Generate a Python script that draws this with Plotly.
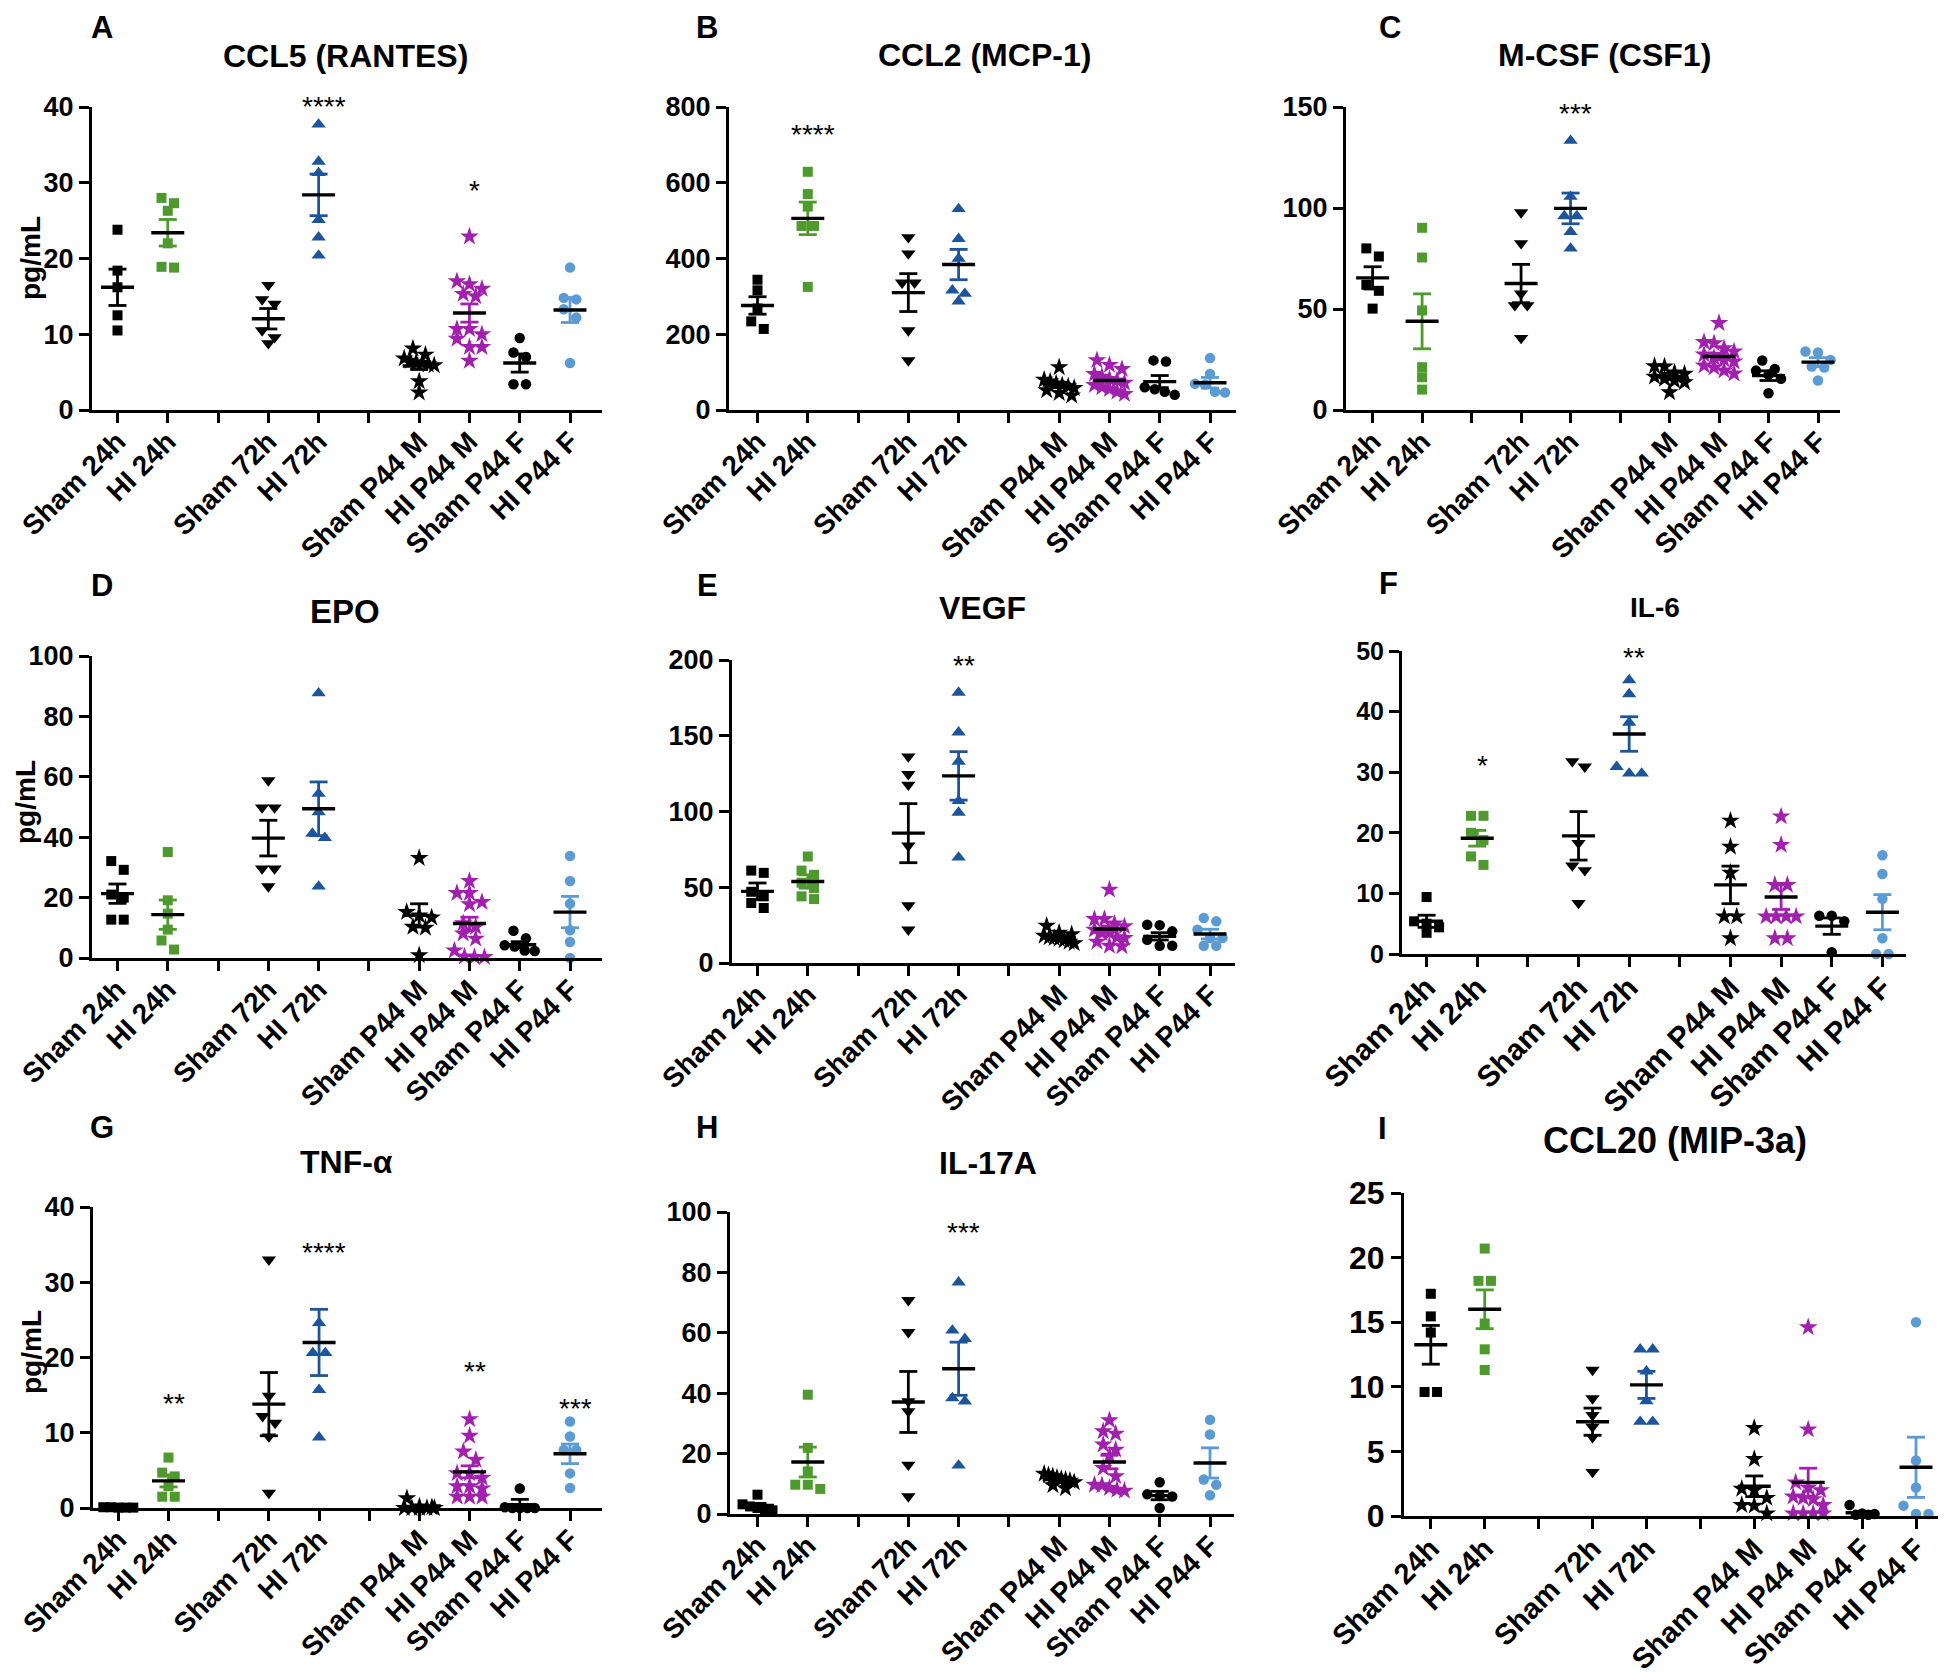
import plotly.graph_objects as go

W, H = 1946, 1678
OFF = 8  # the page body adds an 8px margin around the figure
FONT = "Liberation Sans, Arial, sans-serif"

group_x = [0, 1, 3, 4, 6, 7, 8, 9]
tick_labels = ["Sham 24h", "HI 24h", "", "Sham 72h", "HI 72h", "",
               "Sham P44 M", "HI P44 M", "Sham P44 F", "HI P44 F"]
group_colors = ["#000000", "#4e9a2e", "#000000", "#1c559d",
                "#000000", "#a120ad", "#000000", "#5b9bd5"]
group_symbols = ["square", "square", "triangle-down", "triangle-up",
                 "star", "star", "circle", "circle"]
group_sizes = [10, 10, 12.5, 12.5, 14, 14, 10.5, 10.5]

# ---- A: CCL5 (RANTES)
ccl5_points = [
    [23.8, 18.4, 16.2, 12.5, 10.5],
    [28.0, 27.3, 26.3, 22.0, 18.9, 18.8],
    [16.5, 14.6, 14.0, 10.5, 9.6, 8.8],
    [37.7, 32.8, 31.3, 25.1, 22.8, 20.4],
    [8.1, 7.3, 6.8, 6.5, 6.3, 6.2, 6.0, 5.9, 3.8, 2.3],
    [22.9, 17.0, 16.6, 16.0, 15.3, 15.0, 10.7, 10.7, 10.0, 9.4, 8.3, 8.3, 6.5],
    [9.5, 7.6, 7.0, 3.4, 3.4],
    [18.8, 14.8, 14.6, 13.3, 12.2, 6.2],
]
ccl5_mean = [16.2, 23.4, 12.05, 28.4, 5.8, 12.8, 6.2, 13.2]
ccl5_sem = [2.4, 1.75, 1.35, 2.75, 0.45, 1.2, 1.2, 1.65]
ccl5_stars = [(3, 40.8, "****"), (5, 29.8, "*")]

# ---- B: CCL2 (MCP-1)
ccl2_points = [
    [344, 316, 268, 234, 214],
    [629, 570, 537, 486, 486, 325],
    [456, 413, 336, 336, 210, 131],
    [531, 452, 400, 316, 307, 287],
    [113, 80, 75, 70, 65, 62, 58, 52, 45, 38],
    [131, 119, 108, 95, 88, 82, 78, 72, 66, 60, 55, 48, 42],
    [131, 128, 60, 55, 48, 40],
    [137, 95, 69, 67, 48, 46],
]
ccl2_mean = [276, 506, 310, 384, 66, 78, 75, 72]
ccl2_sem = [23, 43, 50, 40, 7, 5, 16, 14]
ccl2_stars = [(1, 742, "****")]

# ---- C: M-CSF (CSF1)
mcsf_points = [
    [80, 76, 62, 59, 50.2],
    [90.2, 75.5, 49.3, 21.2, 16.2, 10.1],
    [97.8, 82.5, 57.6, 51.8, 51.8, 35.6],
    [133.3, 105.6, 96, 96, 88.2, 80],
    [21.7, 21.5, 18.5, 17.9, 16.5, 15.4, 14.5, 13.7, 8.8],
    [43, 33.6, 33, 30.5, 29, 27.5, 26, 25, 24, 22, 21, 19.5, 18],
    [24.5, 20.3, 19.5, 17.5, 15.5, 8.3],
    [29, 28.5, 24.8, 21.5, 21, 14.6],
]
mcsf_mean = [65.4, 43.9, 62.6, 99.8, 16.6, 26.5, 17.0, 23.7]
mcsf_sem = [5.5, 13.6, 9.5, 7.6, 1.5, 1.6, 2.4, 2.2]
mcsf_stars = [(3, 150, "***")]

# ---- D: EPO
epo_points = [
    [32.1, 29.2, 21, 20, 12.7, 12.7],
    [35.1, 19.1, 14.7, 9.4, 5.8, 2.8],
    [58.8, 49.8, 49.8, 29.6, 29.6, 23.7],
    [87.7, 54.4, 48.3, 41.2, 39.8, 23.7],
    [33.1, 15.2, 14.1, 13.4, 10.3, 10.0, 0.9],
    [25.5, 21.5, 21.5, 18.5, 17.8, 11.5, 10.3, 8.1, 6.4, 2.5, 0.5, 0.3, 0.3],
    [9.0, 6.5, 4.2, 3.8, 2.5, 2.3],
    [33.8, 25.5, 18, 9.2, 5.3, 0],
]
epo_mean = [21.3, 14.35, 39.7, 49.4, 14.1, 11.4, 4.4, 15.2]
epo_sem = [3.2, 4.85, 5.9, 8.9, 3.85, 2.1, 1.0, 5.2]
epo_stars = []

# ---- E: VEGF
vegf_points = [
    [61, 59.5, 47, 44, 39.6, 36.3],
    [70.3, 61, 58.2, 53, 49.5, 44, 42.2],
    [136.3, 124.6, 117.6, 77.4, 38, 22],
    [178.5, 152.3, 133, 107, 99.3, 69.7],
    [24.6, 20, 19, 18, 17, 16.5, 16, 15, 14, 13],
    [48.4, 29, 29, 26, 24.2, 22, 19.8, 19.8, 17, 16.5, 14, 11.4, 11],
    [25.3, 25, 20.9, 15.4, 11.4, 11.4],
    [29.7, 27.5, 22, 16.5, 16.5, 11.4, 11.4],
]
vegf_mean = [47.3, 53.8, 85.7, 123.5, 16.9, 22.4, 17.6, 19.1]
vegf_sem = [5.5, 4.4, 19.5, 16, 1.2, 2.0, 2.4, 3.2]
vegf_stars = [(3, 200, "**")]

# ---- F: IL-6
il6_points = [
    [9.4, 5.4, 5.0, 4.4, 3.5],
    [22.8, 22.8, 20, 18.8, 16.1, 14.7],
    [31.8, 30.9, 18.3, 14.6, 13.8, 8.4],
    [45.2, 42.9, 38.2, 30.9, 29.8, 29.8],
    [22, 17.7, 13.4, 6.2, 6.2, 2.6],
    [22.7, 18, 11.4, 11.4, 6.2, 6.2, 6.2, 6.2, 2.6, 2.6],
    [6.3, 6.3, 5.4, 0.3],
    [16.3, 13.2, 9.1, 2.6, 0, 0],
]
il6_mean = [5.4, 19.1, 19.5, 36.3, 11.4, 9.4, 4.6, 6.9]
il6_sem = [1.0, 1.3, 4.0, 2.85, 3.1, 2.05, 1.35, 2.9]
il6_stars = [(1, 32.1, "*"), (3, 50, "**")]

# ---- G: TNF-alpha
tnf_points = [
    [0.1, 0.1, 0.05, 0.05, 0.05],
    [6.7, 4.7, 4.2, 2.9, 1.5, 1.5],
    [33, 14.9, 12.2, 11.3, 9.5, 2.0],
    [24.6, 20.6, 20.6, 15.7, 9.4],
    [1.3, 0.2, 0.1, 0, 0, 0, 0, 0],
    [11.8, 9.6, 7.5, 6.4, 4.6, 4.6, 4.0, 2.9, 2.9, 2.6, 1.5, 1.5, 1.5],
    [2.6, 0.1, 0, 0, 0, 0],
    [11.5, 9.5, 7.7, 7.7, 4.6, 2.65],
]
tnf_mean = [0.05, 3.6, 13.8, 22.0, 0.2, 4.8, 0.45, 7.2]
tnf_sem = [0.03, 0.8, 4.2, 4.4, 0.15, 0.8, 0.7, 1.3]
tnf_stars = [(1, 14.7, "**"), (3, 34.8, "****"), (5, 19.0, "**"), (7, 14.0, "***")]

# ---- H: IL-17A
il17_points = [
    [6.4, 3.2, 2.5, 2.0, 1.5, 1.2],
    [39.5, 21.9, 14.1, 9.7, 9.7, 8.3],
    [70.8, 60.2, 37.3, 34, 16.3, 5.8],
    [76.7, 60.8, 58, 38.4, 37.3, 16.1],
    [13.3, 12.8, 12.5, 12, 11.6, 11.3, 11, 10.5, 9.5, 8.5],
    [31, 27.4, 26.6, 23, 21.3, 19.3, 15.2, 12.5, 9.7, 9.5, 8.6, 8.0, 7.7],
    [10.5, 6.5, 6, 5.8, 2.0],
    [31.2, 26.3, 11.4, 9.7, 6.2],
]
il17_mean = [2.8, 17.2, 37.1, 48.1, 11.4, 17.2, 6.1, 16.9]
il17_sem = [0.7, 4.95, 10.1, 8.8, 0.5, 2.25, 1.4, 5.0]
il17_stars = [(3, 95.3, "***")]

# ---- I: CCL20 (MIP-3a)
ccl20_points = [
    [17.2, 15.45, 14.2, 9.6, 9.6],
    [20.7, 18.2, 18.2, 14.9, 12.9, 11.3],
    [11.3, 9.1, 7.8, 6.9, 6.1, 3.4],
    [12.9, 12.9, 11.2, 8.9, 7.3, 7.3],
    [6.8, 4.4, 2.1, 2.0, 1.4, 0.85, 0.8, 0.2],
    [14.6, 6.7, 2.6, 2.2, 2.0, 1.5, 1.4, 1.3, 0.85, 0.2, 0.2, 0.2, 0.2],
    [0.85, 0.2, 0.15, 0.1, 0.1],
    [15.0, 4.3, 2.2, 0.8, 0.15, 0.15],
]
ccl20_mean = [13.25, 16.0, 7.3, 10.15, 2.3, 2.6, 0.25, 3.77]
ccl20_sem = [1.5, 1.5, 1.05, 1.05, 0.8, 1.1, 0.1, 2.33]
ccl20_stars = []

# panel geometry in page pixels: axis left/right, first/last tick, top/zero of y
panels = [
    dict(letter="A", title="CCL5 (RANTES)", pts=ccl5_points, mean=ccl5_mean, sem=ccl5_sem,
         stars=ccl5_stars, ymax=40, dtick=10, box=(92, 602, 117.5, 570, 107, 410),
         tpos=(345, 56, 32), lpos=(102, 17), ylab=(30, 258), tf=27, xf=28),
    dict(letter="B", title="CCL2 (MCP-1)", pts=ccl2_points, mean=ccl2_mean, sem=ccl2_sem,
         stars=ccl2_stars, ymax=800, dtick=200, box=(729, 1236, 757.5, 1210, 107, 410),
         tpos=(984, 55, 32), lpos=(707, 17), ylab=None, tf=27, xf=28),
    dict(letter="C", title="M-CSF (CSF1)", pts=mcsf_points, mean=mcsf_mean, sem=mcsf_sem,
         stars=mcsf_stars, ymax=150, dtick=50, box=(1346, 1840, 1372.6, 1818, 107, 410),
         tpos=(1604, 55, 32), lpos=(1390, 17), ylab=None, tf=27, xf=28),
    dict(letter="D", title="EPO", pts=epo_points, mean=epo_mean, sem=epo_sem,
         stars=epo_stars, ymax=100, dtick=20, box=(92, 602, 117.5, 570, 656, 958),
         tpos=(345, 612, 33), lpos=(102, 585), ylab=(26, 802), tf=27, xf=28),
    dict(letter="E", title="VEGF", pts=vegf_points, mean=vegf_mean, sem=vegf_sem,
         stars=vegf_stars, ymax=200, dtick=50, box=(732, 1235, 757.5, 1210, 660, 963),
         tpos=(983, 608, 32), lpos=(707, 585), ylab=None, tf=27, xf=28),
    dict(letter="F", title="IL-6", pts=il6_points, mean=il6_mean, sem=il6_sem,
         stars=il6_stars, ymax=50, dtick=10, box=(1402, 1906, 1426.6, 1882.4, 651, 954),
         tpos=(1655, 607, 28), lpos=(1388, 584), ylab=None, tf=25, xf=30),
    dict(letter="G", title="TNF-\u03b1", pts=tnf_points, mean=tnf_mean, sem=tnf_sem,
         stars=tnf_stars, ymax=40, dtick=10, box=(93, 602, 118.3, 570, 1207, 1508),
         tpos=(346, 1162, 32), lpos=(102, 1127), ylab=(31, 1352), tf=27, xf=28),
    dict(letter="H", title="IL-17A", pts=il17_points, mean=il17_mean, sem=il17_sem,
         stars=il17_stars, ymax=100, dtick=20, box=(730, 1234, 757.5, 1210, 1212, 1514),
         tpos=(988, 1163, 32), lpos=(707, 1127), ylab=None, tf=27, xf=28),
    dict(letter="I", title="CCL20 (MIP-3a)", pts=ccl20_points, mean=ccl20_mean, sem=ccl20_sem,
         stars=ccl20_stars, ymax=25, dtick=5, box=(1404, 1942, 1430.8, 1916, 1193, 1516),
         tpos=(1675, 1140, 36), lpos=(1382, 1128), ylab=None, tf=32, xf=29),
]


def fx(x):
    return (x - OFF) / W


def fy(y):
    return 1 - (y - OFF) / H


def swarm(vals, ppu, step):
    # Prism-like rows: points with close values share a row, centred on the group
    order = sorted(range(len(vals)), key=lambda i: -vals[i])
    rows = []
    for i in order:
        y = vals[i] * ppu
        if rows and rows[-1][0] - y < step * 0.75:
            rows[-1][1].append(i)
        else:
            rows.append([y, [i]])
    offs = [0.0] * len(vals)
    for _, idx in rows:
        n = len(idx)
        d = step if n < 3 else min(step, 30.0 / (n - 1))
        for j, i in enumerate(idx):
            offs[i] = (j - (n - 1) / 2) * d
    return offs


fig = go.Figure()
annotations = []

for k, p in enumerate(panels):
    sfx = "" if k == 0 else str(k + 1)
    xa, ya = "x" + sfx, "y" + sfx
    x0, x1, t0, t9, ytop, ybot = p["box"]
    sp = (t9 - t0) / 9.0
    ppu = (ybot - ytop) / p["ymax"]

    for g in range(8):
        vals = p["pts"][g]
        offs = swarm(vals, ppu, 12.5)
        fig.add_trace(go.Scatter(
            x=[group_x[g] + o / sp for o in offs], y=vals, mode="markers",
            marker=dict(symbol=group_symbols[g], color=group_colors[g],
                        size=group_sizes[g], line=dict(width=0)),
            cliponaxis=False, xaxis=xa, yaxis=ya, showlegend=False, hoverinfo="skip"))

    cap = 9.0 / sp
    half = 16.5 / sp
    for g in range(8):
        gx, m, s = group_x[g], p["mean"][g], p["sem"][g]
        ex = [gx, gx, None, gx - cap, gx + cap, None, gx - cap, gx + cap]
        ey = [m - s, m + s, None, m + s, m + s, None, m - s, m - s]
        fig.add_trace(go.Scatter(
            x=ex, y=ey, mode="lines", line=dict(color=group_colors[g], width=2.8),
            cliponaxis=False, xaxis=xa, yaxis=ya, showlegend=False, hoverinfo="skip"))
    mx, my = [], []
    for g in range(8):
        gx, m = group_x[g], p["mean"][g]
        mx += [gx - half, gx + half, None]
        my += [m, m, None]
    fig.add_trace(go.Scatter(
        x=mx, y=my, mode="lines", line=dict(color="black", width=3.4),
        cliponaxis=False, xaxis=xa, yaxis=ya, showlegend=False, hoverinfo="skip"))

    fig.layout["xaxis" + sfx] = dict(
        domain=[fx(x0), fx(x1)], anchor=ya, automargin=False,
        range=[(x0 - t0) / sp, (x1 - t0) / sp],
        tickmode="array", tickvals=list(range(10)), ticktext=tick_labels,
        tickangle=-45, ticks="outside", ticklen=10, tickwidth=2.6, tickcolor="black",
        ticklabelstandoff=-9,
        showline=True, linewidth=3, linecolor="black", showgrid=False, zeroline=False,
        tickfont=dict(family=FONT, size=p["xf"], color="black", weight="bold"))
    fig.layout["yaxis" + sfx] = dict(
        domain=[fy(ybot), fy(ytop)], anchor=xa, automargin=False,
        range=[0, p["ymax"]], tick0=0, dtick=p["dtick"],
        ticks="outside", ticklen=10, tickwidth=2.6, tickcolor="black",
        showline=True, linewidth=3, linecolor="black", showgrid=False, zeroline=False,
        tickfont=dict(family=FONT, size=p["tf"], color="black", weight="bold"))

    for g, yv, txt in p["stars"]:
        # annotations above the axis range are dropped, so pin to the top and shift up
        extra = max(0.0, yv - p["ymax"]) * ppu
        annotations.append(dict(
            x=group_x[g] + 0.1, y=min(yv, p["ymax"]), xref=xa, yref=ya, text=txt,
            showarrow=False, yanchor="middle", yshift=-6 + extra,
            font=dict(family=FONT, size=28, color="black")))

    tx, ty, ts = p["tpos"]
    annotations.append(dict(
        x=fx(tx), y=fy(ty), xref="paper", yref="paper", text="<b>%s</b>" % p["title"],
        showarrow=False, xanchor="center", yanchor="middle",
        font=dict(family=FONT, size=ts, color="black")))
    lx, ly = p["lpos"]
    if ly < 40:
        annotations.append(dict(
            x=fx(lx), y=1, xref="paper", yref="paper", text="<b>%s</b>" % p["letter"],
            showarrow=False, xanchor="center", yanchor="top",
            font=dict(family=FONT, size=31, color="black")))
    else:
        annotations.append(dict(
            x=fx(lx), y=fy(ly), xref="paper", yref="paper", text="<b>%s</b>" % p["letter"],
            showarrow=False, xanchor="center", yanchor="middle",
            font=dict(family=FONT, size=31, color="black")))
    if p["ylab"]:
        yx, yy = p["ylab"]
        annotations.append(dict(
            x=fx(yx), y=fy(yy), xref="paper", yref="paper", text="<b>pg/mL</b>",
            textangle=-90, showarrow=False, xanchor="center", yanchor="middle",
            font=dict(family=FONT, size=28, color="black")))

fig.update_layout(
    width=W, height=H, margin=dict(l=0, r=0, t=0, b=0),
    paper_bgcolor="white", plot_bgcolor="white",
    annotations=annotations, showlegend=False)

fig.write_html("out.html")
